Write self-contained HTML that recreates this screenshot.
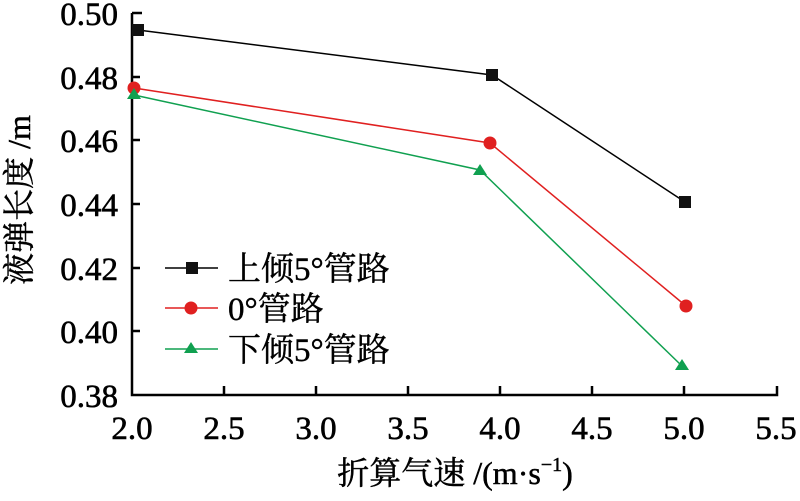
<!DOCTYPE html>
<html><head><meta charset="utf-8"><style>body{margin:0;background:#fff} svg text{font-family:"Liberation Serif","DejaVu Serif","Noto Serif CJK SC",serif}</style></head><body>
<svg width="800" height="496" xmlns="http://www.w3.org/2000/svg">
<g stroke="#000" stroke-width="2.5" fill="none">
<path d="M132,13 V395 H777 V386"/>
<path d="M132,13 H142 M132,77 H140 M132,140 H140 M132,204 H140 M132,268 H140 M132,331 H140"/>
<path d="M224,395 V386 M316,395 V386 M408,395 V386 M500,395 V386 M592,395 V386 M684,395 V386"/>
</g>
<g font-size="33" text-anchor="end" fill="#000" stroke="#000" stroke-width="0.6">
<text x="118" y="25">0.50</text><text x="118" y="89">0.48</text><text x="118" y="152">0.46</text>
<text x="118" y="216">0.44</text><text x="118" y="280">0.42</text><text x="118" y="343">0.40</text><text x="118" y="407">0.38</text>
</g>
<g font-size="33" text-anchor="middle" fill="#000" stroke="#000" stroke-width="0.6">
<text x="132" y="439">2.0</text><text x="224" y="439">2.5</text><text x="316" y="439">3.0</text><text x="408" y="439">3.5</text>
<text x="500" y="439">4.0</text><text x="592" y="439">4.5</text><text x="684" y="439">5.0</text><text x="776" y="439">5.5</text>
</g>
<text x="455" y="484" font-size="32" text-anchor="middle" stroke="#000" stroke-width="0.5">折算气速 /(m·s<tspan font-size="20" dy="-13">−1</tspan><tspan dy="13">)</tspan></text>
<text transform="translate(30,200) rotate(-90)" font-size="32" text-anchor="middle" stroke="#000" stroke-width="0.5">液弹长度 /m</text>
<polyline points="138,30 492,75 685,202" stroke="#000" stroke-width="1.5" fill="none"/>
<polyline points="134,88 490,143 686,306" stroke="#e02020" stroke-width="1.5" fill="none"/>
<polyline points="134,95 480,170 682,366" stroke="#10a050" stroke-width="1.5" fill="none"/>
<g fill="#111"><rect x="132" y="24" width="12" height="12"/><rect x="486" y="69" width="12" height="12"/><rect x="679" y="196" width="12" height="12"/></g>
<g fill="#e02020"><circle cx="134" cy="88" r="6.5"/><circle cx="490" cy="143" r="6.5"/><circle cx="686" cy="306" r="6.5"/></g>
<g fill="#10a050"><path d="M134,88 l7,11 h-14z"/><path d="M480,164 l7,11 h-14z"/><path d="M682,359 l7,11 h-14z"/></g>
<line x1="165" y1="268" x2="218" y2="268" stroke="#000" stroke-width="1.5"/><rect x="186" y="262" width="12" height="12" fill="#111"/>
<line x1="165" y1="308" x2="218" y2="308" stroke="#e02020" stroke-width="1.5"/><circle cx="191" cy="308" r="6.5" fill="#e02020"/>
<line x1="165" y1="349" x2="218" y2="349" stroke="#10a050" stroke-width="1.5"/><path d="M191,342 l7,11 h-14z" fill="#10a050"/>
<g font-size="33" fill="#000" stroke="#000" stroke-width="0.4"><text x="228" y="280">上倾5°管路</text><text x="228" y="320">0°管路</text><text x="228" y="361">下倾5°管路</text></g>
</svg>
</body></html>
